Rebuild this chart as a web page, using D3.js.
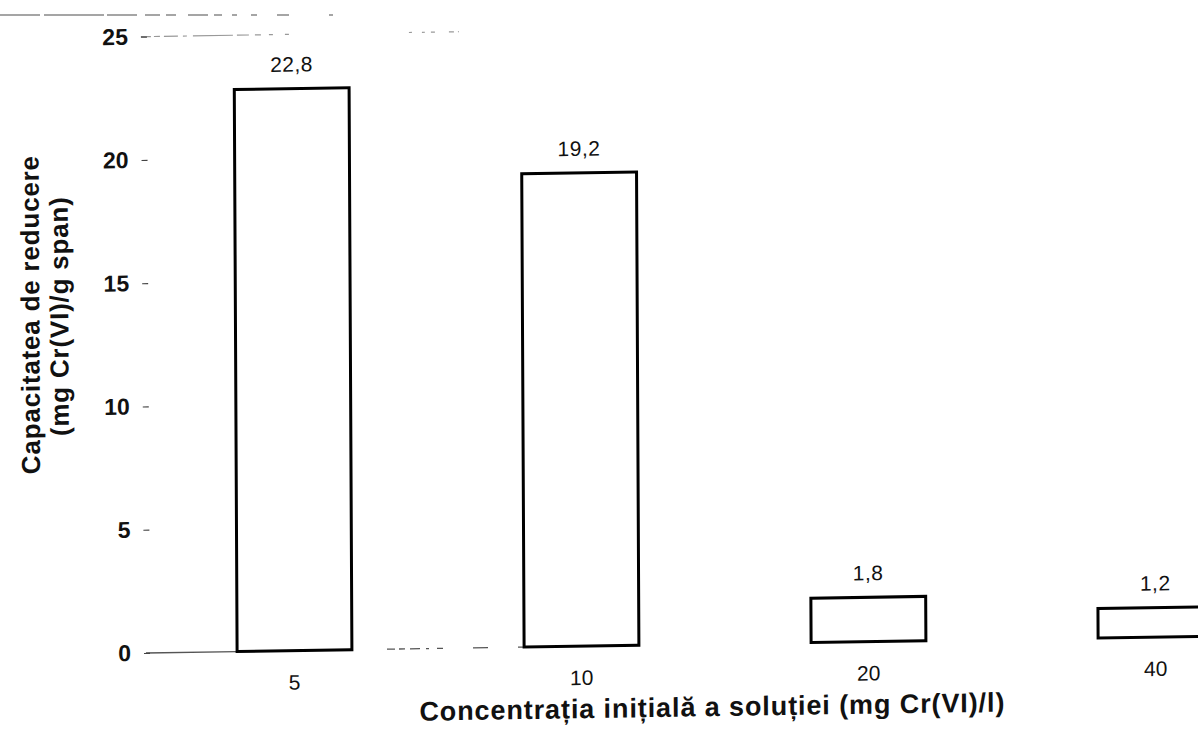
<!DOCTYPE html>
<html>
<head>
<meta charset="utf-8">
<script src="https://cdn.jsdelivr.net/npm/d3@7"></script>
<style>
  html, body { margin: 0; padding: 0; background: #fff; }
  svg { display: block; font-family: "Liberation Sans", Arial, Helvetica, sans-serif; }
</style>
</head>
<body>
<script>
// ---- data ----
const categories = ["5", "10", "20", "40"];           // initial concentration (mg Cr(VI)/l)
const values = [22.8, 19.2, 1.8, 1.2];                 // reduction capacity (mg Cr(VI)/g span)
const yTicks = [0, 5, 10, 15, 20, 25];
const xTitle = "Concentrația inițială a soluției (mg Cr(VI)/l)";
const yTitle1 = "Capacitatea de reducere";
const yTitle2 = "(mg Cr(VI)/g span)";

// ---- setup ----
const W = 1198, H = 730;
const roLocale = d3.formatLocale({decimal: ",", thousands: ".", grouping: [3], currency: ["", " lei"]});
const fmt = roLocale.format(".1f");

const svg = d3.select("body").append("svg").attr("width", W).attr("height", H);
svg.append("rect").attr("width", W).attr("height", H).attr("fill", "#fff");

// slight skew like the scanned original
const g = svg.append("g").attr("transform", "matrix(1,-0.0157,0.005,1,-3.265,2.28)");

const axisX = 150;
const x = d3.scaleBand().domain(categories).range([151, 1299]).paddingInner(0.6).paddingOuter(0.3);
const y = d3.scaleLinear().domain([0, 25]).range([653, 36.7]);

// faint scan artefact line at the very top
svg.append("line")
  .attr("x1", 0).attr("x2", 380).attr("y1", 15).attr("y2", 15)
  .attr("stroke", "#888").attr("stroke-width", 1.5)
  .attr("stroke-dasharray", "40,4,60,3,30,8,15,6,10,12,20,6,8,10,5,14,6,20,12");

// faded gridline at 25
g.append("line")
  .attr("x1", axisX - 6).attr("x2", x("10") - 62)
  .attr("y1", y(25)).attr("y2", y(25))
  .attr("stroke", "#999").attr("stroke-width", 1.2)
  .attr("stroke-dasharray", "10,3,6,4,14,5,4,6,40,4,12,6,6,8,4,12,4,120,3");

// faded zero line
g.append("line")
  .attr("x1", axisX - 4).attr("x2", x("10"))
  .attr("y1", y(0)).attr("y2", y(0))
  .attr("stroke", "#555").attr("stroke-width", 1.3)
  .attr("stroke-dasharray", "91,150,8,4,6,5,10,6,3,8,6,30,15,30");

// bars
const data = categories.map((c, i) => ({cat: c, v: values[i]}));
g.selectAll("rect.bar").data(data).join("rect")
  .attr("class", "bar")
  .attr("x", d => x(d.cat))
  .attr("y", d => y(d.v))
  .attr("width", x.bandwidth())
  .attr("height", d => y(0) - y(d.v))
  .attr("fill", "#fff")
  .attr("stroke", "#000")
  .attr("stroke-width", 3);

// value labels
g.selectAll("text.val").data(data).join("text")
  .attr("class", "val")
  .attr("x", d => x(d.cat) + x.bandwidth() / 2)
  .attr("y", d => y(d.v) - 17)
  .attr("text-anchor", "middle")
  .attr("font-size", 21)
  .attr("letter-spacing", 0.5)
  .attr("fill", "#111")
  .text(d => fmt(d.v));

// y axis
const yAxis = g.append("g").attr("transform", `translate(${axisX},0)`)
  .call(d3.axisLeft(y).tickValues(yTicks).tickSize(6).tickPadding(13).tickFormat(d3.format("d")));
yAxis.select(".domain").remove();
yAxis.selectAll(".tick line").attr("stroke", "#444").attr("stroke-width", 1.2);
yAxis.selectAll(".tick text").attr("font-size", 23).attr("font-weight", "bold")
  .attr("fill", "#111").attr("font-family", "Liberation Sans, Arial, sans-serif");

// x axis
const xAxis = g.append("g").attr("transform", `translate(0,${y(0)})`)
  .call(d3.axisBottom(x).tickSize(0).tickPadding(24));
xAxis.select(".domain").remove();
xAxis.selectAll(".tick text").attr("font-size", 21).attr("fill", "#111")
  .attr("font-family", "Liberation Sans, Arial, sans-serif");

// axis titles
g.append("text")
  .attr("x", 712).attr("y", 725)
  .attr("text-anchor", "middle")
  .attr("font-size", 27).attr("font-weight", "bold").attr("fill", "#111")
  .attr("letter-spacing", 0.9)
  .text(xTitle);

g.append("text")
  .attr("transform", "translate(41,313) rotate(-90)")
  .attr("text-anchor", "middle")
  .attr("font-size", 26).attr("font-weight", "bold").attr("fill", "#111")
  .attr("letter-spacing", 0.8)
  .text(yTitle1);
g.append("text")
  .attr("transform", "translate(70,315) rotate(-90)")
  .attr("text-anchor", "middle")
  .attr("font-size", 26).attr("font-weight", "bold").attr("fill", "#111")
  .attr("letter-spacing", 0.8)
  .text(yTitle2);
</script>
</body>
</html>
